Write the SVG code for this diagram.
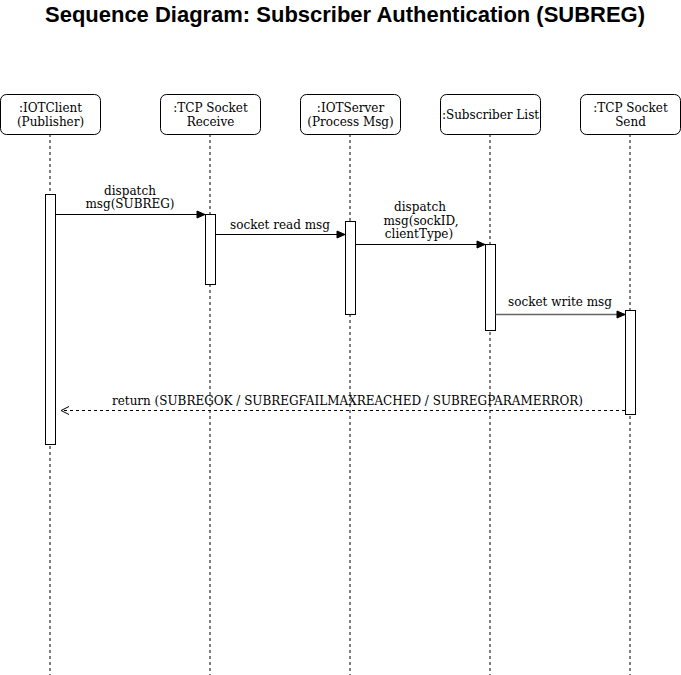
<svg xmlns="http://www.w3.org/2000/svg" width="681" height="675" viewBox="0 0 681 675">
<defs>
<style>
.box{fill:#fff;stroke:#000;stroke-width:1}
.life{stroke:#000;stroke-width:1;stroke-dasharray:3 3;fill:none}
.act{fill:#fff;stroke:#000;stroke-width:1}
.lbl{font-family:"DejaVu Serif",serif;font-size:12px;fill:#000;text-anchor:middle}
.msg{stroke:#000;stroke-width:1;fill:none}
.ret{stroke:#000;stroke-width:1;fill:none;stroke-dasharray:3 3}
.title{font-family:"Liberation Sans",Arial,sans-serif;font-size:22px;font-weight:bold;text-anchor:middle;fill:#000}
</style>
<marker id="fill" markerWidth="10" markerHeight="10" refX="9" refY="5" orient="auto" markerUnits="userSpaceOnUse">
<path d="M1,1.5 L9,5 L1,8.5 Z" fill="#000" stroke="#000"/>
</marker>
<marker id="open" markerWidth="10" markerHeight="10" refX="9" refY="5" orient="auto" markerUnits="userSpaceOnUse">
<path d="M1,1 L9,5 L1,9" fill="none" stroke="#000"/>
</marker>
</defs>
<rect width="681" height="675" fill="#fff"/>
<text class="title" x="345" y="22" textLength="600" lengthAdjust="spacingAndGlyphs">Sequence Diagram: Subscriber Authentication (SUBREG)</text>

<g id="n1">
<line class="life" x1="50" y1="134" x2="50" y2="675"/>
<rect class="box" x="0.5" y="94.5" width="100" height="40" rx="6"/>
<text class="lbl" x="50.5" y="112">:IOTClient</text>
<text class="lbl" x="50.5" y="126">(Publisher)</text>
</g>
<g id="n2">
<line class="life" x1="210" y1="134" x2="210" y2="675"/>
<rect class="box" x="160.5" y="94.5" width="100" height="40" rx="6"/>
<text class="lbl" x="210.5" y="112">:TCP Socket</text>
<text class="lbl" x="210.5" y="126">Receive</text>
</g>
<g id="n3">
<line class="life" x1="350" y1="134" x2="350" y2="675"/>
<rect class="box" x="300.5" y="94.5" width="100" height="40" rx="6"/>
<text class="lbl" x="350.5" y="112">:IOTServer</text>
<text class="lbl" x="350.5" y="126">(Process Msg)</text>
</g>
<g id="n4">
<line class="life" x1="490" y1="134" x2="490" y2="675"/>
<rect class="box" x="440.5" y="94.5" width="100" height="40" rx="6"/>
<text class="lbl" x="490.5" y="119">:Subscriber List</text>
</g>
<g id="n5">
<line class="life" x1="630" y1="134" x2="630" y2="675"/>
<rect class="box" x="580.5" y="94.5" width="100" height="40" rx="6"/>
<text class="lbl" x="630.5" y="112">:TCP Socket</text>
<text class="lbl" x="630.5" y="126">Send</text>
</g>

<g id="activations">
<rect class="act" x="45.5" y="194.5" width="10" height="250"/>
<rect class="act" x="205.5" y="214.5" width="10" height="70"/>
<rect class="act" x="345.5" y="221.5" width="10" height="93"/>
<rect class="act" x="485.5" y="244.5" width="10" height="86"/>
<rect class="act" x="625.5" y="310.5" width="10" height="104"/>
</g>

<g id="connectors">
<line class="msg" x1="55.5" y1="214.5" x2="205" y2="214.5" marker-end="url(#fill)"/>
<text class="lbl" x="130" y="195">dispatch</text>
<text class="lbl" x="130" y="208">msg(SUBREG)</text>

<line class="msg" x1="215.5" y1="234.5" x2="345" y2="234.5" marker-end="url(#fill)"/>
<text class="lbl" x="280" y="229">socket read msg</text>

<line class="msg" x1="355.5" y1="244.5" x2="485" y2="244.5" marker-end="url(#fill)"/>
<text class="lbl" x="420" y="211">dispatch</text>
<text class="lbl" x="421" y="225">msg(sockID,</text>
<text class="lbl" x="419" y="238">clientType)</text>

<line class="msg" x1="495.5" y1="314.5" x2="625" y2="314.5" style="stroke:#666;stroke-width:1.5" marker-end="url(#fill)"/>
<text class="lbl" x="560" y="306">socket write msg</text>

<line class="ret" x1="625" y1="410.5" x2="61" y2="410.5" marker-end="url(#open)"/>
<text class="lbl" x="347.5" y="405" textLength="471" lengthAdjust="spacingAndGlyphs">return (SUBREGOK / SUBREGFAILMAXREACHED / SUBREGPARAMERROR)</text>
</g>
</svg>
